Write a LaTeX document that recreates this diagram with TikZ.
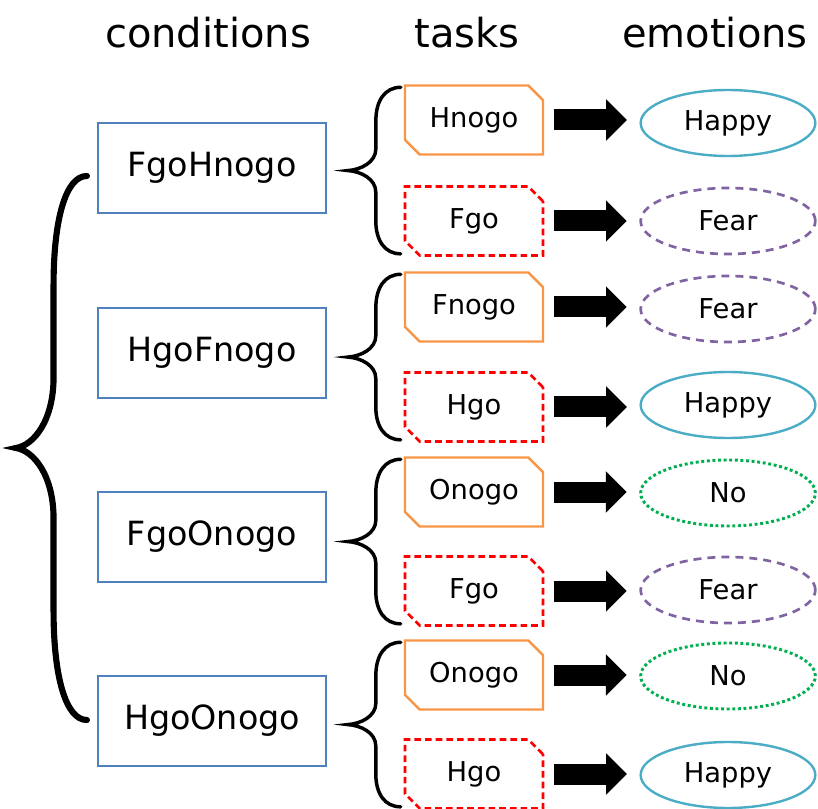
\documentclass[tikz,border=0pt]{standalone}
\usepackage{fontspec}
\setmainfont{DejaVu Sans}
\usetikzlibrary{positioning,calc,arrows.meta,shapes.geometric,shapes.misc}

\definecolor{condblue}{HTML}{4F81BD}
\definecolor{nogoorange}{HTML}{F79646}
\definecolor{gored}{HTML}{FF0000}
\definecolor{happyteal}{HTML}{4BACC6}
\definecolor{fearpurple}{HTML}{8064A2}
\definecolor{nogreen}{HTML}{00B050}

% curly brace opening to the right: style, upper end, lower end, depth
\newcommand\curlybrace[4]{%
  \draw[#1] (#2)
    .. controls ($(#2)+(-0.3*#4,0)$) and ($(#2)!0.08!(#3)+(-0.47*#4,0)$) .. ($(#2)!0.2!(#3)+(-0.47*#4,0)$)
    -- ($(#2)!0.37!(#3)+(-0.47*#4,0)$)
    .. controls ($(#2)!0.45!(#3)+(-0.47*#4,0)$) and ($(#2)!0.495!(#3)+(-0.75*#4,0)$) .. ($(#2)!0.5!(#3)+(-#4,0)$)
    .. controls ($(#2)!0.505!(#3)+(-0.75*#4,0)$) and ($(#2)!0.55!(#3)+(-0.47*#4,0)$) .. ($(#2)!0.63!(#3)+(-0.47*#4,0)$)
    -- ($(#2)!0.8!(#3)+(-0.47*#4,0)$)
    .. controls ($(#2)!0.92!(#3)+(-0.47*#4,0)$) and ($(#3)+(-0.3*#4,0)$) .. (#3);
}

\begin{document}
\begin{tikzpicture}[x=0.75pt,y=-0.75pt,
  hdr/.style={font=\fontsize{30}{35}\selectfont},
  condbox/.style={draw=condblue,line width=1.6pt,minimum width=171pt,minimum height=67.5pt,
    font=\fontsize{25}{29}\selectfont},
  taskbox/.style={chamfered rectangle,chamfered rectangle corners={north east,south west},
    chamfered rectangle xsep=5.5pt,chamfered rectangle ysep=5.5pt,
    minimum width=103.5pt,minimum height=51.75pt,line width=1.8pt,
    font=\fontsize{20.5}{24}\selectfont},
  nogobox/.style={taskbox,draw=nogoorange},
  gobox/.style={taskbox,draw=gored,line width=2pt,dash pattern=on 5pt off 3pt},
  emo/.style={ellipse,minimum width=131pt,minimum height=49.5pt,inner sep=0pt,line width=1.8pt,
    font=\fontsize{20.5}{24}\selectfont},
  happyell/.style={emo,draw=happyteal},
  fearell/.style={emo,draw=fearpurple,line width=2pt,dash pattern=on 6pt off 4.5pt},
  noell/.style={emo,draw=nogreen,line width=2.2pt,dash pattern=on 2.2pt off 2pt},
  fat/.style={line width=15.75pt,-{Triangle[length=15.5pt,width=31pt,line width=0pt]},
    shorten <=7pt,shorten >=9.5pt},
  bigbrace/.style={line width=4.6pt,line cap=round},
  smallbrace/.style={line width=2.6pt,line cap=round}]

\useasboundingbox (0,0) rectangle (818,809);

% column titles
\node[hdr] (hcond) at (208,33) {conditions};
\node[hdr] (htask) at (467,33) {tasks};
\node[hdr] (hemo) at (715,33) {emotions};

% conditions
\node[condbox] (c1) at (212,168) {FgoHnogo};
\node[condbox] (c2) at (212,353) {HgoFnogo};
\node[condbox] (c3) at (212,537) {FgoOnogo};
\node[condbox] (c4) at (212,721) {HgoOnogo};

% tasks
\node[nogobox] (t1) at (474,120) {Hnogo};
\node[gobox]   (t2) at (474,221) {Fgo};
\node[nogobox] (t3) at (474,307) {Fnogo};
\node[gobox]   (t4) at (474,407) {Hgo};
\node[nogobox] (t5) at (474,492) {Onogo};
\node[gobox]   (t6) at (474,591) {Fgo};
\node[nogobox] (t7) at (474,675) {Onogo};
\node[gobox]   (t8) at (474,774) {Hgo};

% emotions
\node[happyell] (e1) at (728,123) {Happy};
\node[fearell]  (e2) at (728,221) {Fear};
\node[fearell]  (e3) at (728,309) {Fear};
\node[happyell] (e4) at (728,405) {Happy};
\node[noell]    (e5) at (728,493) {No};
\node[fearell]  (e6) at (728,590) {Fear};
\node[noell]    (e7) at (728,676) {No};
\node[happyell] (e8) at (728,775) {Happy};

\draw[fat] (t1.east) -- (t1.east -| e1.west);
\draw[fat] (t2.east) -- (t2.east -| e2.west);
\draw[fat] (t3.east) -- (t3.east -| e3.west);
\draw[fat] (t4.east) -- (t4.east -| e4.west);
\draw[fat] (t5.east) -- (t5.east -| e5.west);
\draw[fat] (t6.east) -- (t6.east -| e6.west);
\draw[fat] (t7.east) -- (t7.east -| e7.west);
\draw[fat] (t8.east) -- (t8.east -| e8.west);

% braces
\coordinate (btop) at ($(c1.west)+(-10,8)$);
\coordinate (bbot) at ($(c4.west)+(-10,-1)$);
\curlybrace{bigbrace}{btop}{bbot}{71}

\coordinate (s1a) at ($(t1.west |- t1.north)+(-3,3)$);
\coordinate (s1b) at ($(t2.west |- t2.south)+(-3,-3)$);
\curlybrace{smallbrace}{s1a}{s1b}{53}
\coordinate (s2a) at ($(t3.west |- t3.north)+(-3,3)$);
\coordinate (s2b) at ($(t4.west |- t4.south)+(-3,-3)$);
\curlybrace{smallbrace}{s2a}{s2b}{53}
\coordinate (s3a) at ($(t5.west |- t5.north)+(-3,3)$);
\coordinate (s3b) at ($(t6.west |- t6.south)+(-3,-3)$);
\curlybrace{smallbrace}{s3a}{s3b}{53}
\coordinate (s4a) at ($(t7.west |- t7.north)+(-3,3)$);
\coordinate (s4b) at ($(t8.west |- t8.south)+(-3,-3)$);
\curlybrace{smallbrace}{s4a}{s4b}{53}
\end{tikzpicture}
\end{document}
